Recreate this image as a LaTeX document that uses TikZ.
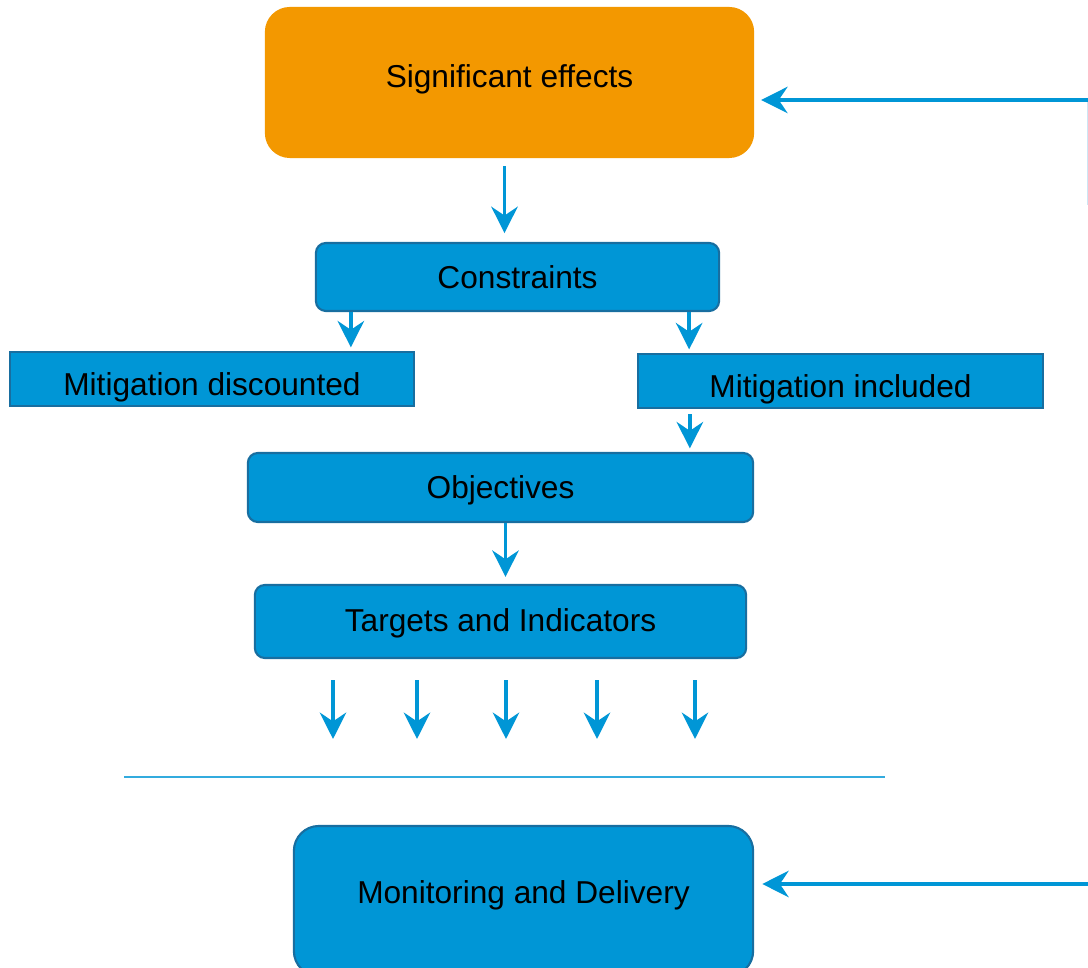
\documentclass[tikz,border=0pt]{standalone}
\usepackage{fontspec}
\setmainfont{Liberation Sans}
\usetikzlibrary{arrows.meta}
\usetikzlibrary{calc}
\definecolor{boxblue}{RGB}{0,150,214}
\definecolor{edgeblue}{RGB}{24,110,160}
\definecolor{sigorange}{RGB}{243,152,0}
\definecolor{faintblue}{RGB}{205,230,244}

\begin{document}
\begin{tikzpicture}[x=0.01cm,y=-0.01cm,font=\fontsize{9}{11}\selectfont]
	\tikzstyle{stage}=[rectangle,fill=boxblue,draw=edgeblue,line width=0.6pt,inner sep=0pt,text depth=0pt]
	\tikzstyle{round stage}=[stage,rounded corners=0.1cm]
	\tikzstyle{big stage}=[stage,rounded corners=0.25cm]
	\tikzstyle{effect}=[big stage,fill=sigorange,draw=none]
	\tikzstyle{flow}=[draw=boxblue,line width=1.1pt,-{Stealth[length=7.5pt,width=7.5pt,inset=2.5pt]}]
	\tikzstyle{sep line}=[draw=boxblue!80,line width=0.3pt]
	
	\clip (0,0) rectangle (1088,968);
	
	% Draw the stages
	\node[effect,minimum width=4.89cm,minimum height=1.51cm,text depth=0.12cm] (sig) at (509.5,82.5) {Significant effects};
	\node[round stage,minimum width=4.03cm,minimum height=0.68cm] (con) at (517.5,277) {Constraints};
	\node[stage,minimum width=4.04cm,minimum height=0.54cm,text height=0.33cm] (mdis) at (212,379) {Mitigation discounted};
	\node[stage,minimum width=4.05cm,minimum height=0.54cm,text height=0.33cm] (minc) at (840.5,381) {Mitigation included};
	\node[round stage,minimum width=5.05cm,minimum height=0.69cm] (obj) at (500.5,487.5) {Objectives};
	\node[round stage,minimum width=4.91cm,minimum height=0.73cm,text depth=0.03cm] (tgt) at (500.5,621.5) {Targets and Indicators};
	\node[big stage,minimum width=4.59cm,minimum height=1.5cm,text depth=0.18cm] (mon) at (523.5,901) {Monitoring and Delivery};
	
	% Free ends
	\foreach \name / \x in {1/333,2/417,3/506,4/597,5/695}
	\coordinate (out-\name) at (\x,739);
	\coordinate (sepL) at (124,777);
	\coordinate (sepR) at (885,777);
	\coordinate (fbtop) at (1088,100);
	\coordinate (fbend) at (1088,205);
	\coordinate (fbmon) at (1088,884);
	
	% Connect the stages
	\draw[flow,shorten <=2pt,shorten >=2.5pt] ([xshift=-0.05cm]sig.south) -- ([xshift=-0.05cm]sig.south |- con.north);
	\draw[flow,shorten >=1pt] ([xshift=0.36cm]con.south west) -- ([xshift=0.36cm]con.south west |- mdis.north);
	\draw[flow,shorten >=1pt] ([xshift=-0.31cm]con.south east) -- ([xshift=-0.31cm]con.south east |- minc.north);
	\draw[flow,shorten <=1.5pt,shorten >=1pt] ([xshift=0.53cm]minc.south west) -- ([xshift=0.53cm]minc.south west |- obj.north);
	\draw[flow,shorten >=2pt] ([xshift=0.05cm]obj.south) -- ([xshift=0.05cm]obj.south |- tgt.north);
	
	% Outputs of the targets
	\foreach \name in {1,...,5}
	\draw[flow,shorten <=6pt] (out-\name |- tgt.south) -- (out-\name);
	
	\draw[sep line] (sepL) -- (sepR);
	
	% Feedback
	\draw[draw=faintblue,line width=0.4pt] (fbtop) -- (fbend);
	\draw[flow,shorten >=1.7pt] (fbtop) -- (fbtop -| sig.east);
	\draw[flow,shorten >=2.3pt] (fbmon) -- (fbmon -| mon.east);
	
\end{tikzpicture}
\end{document}
